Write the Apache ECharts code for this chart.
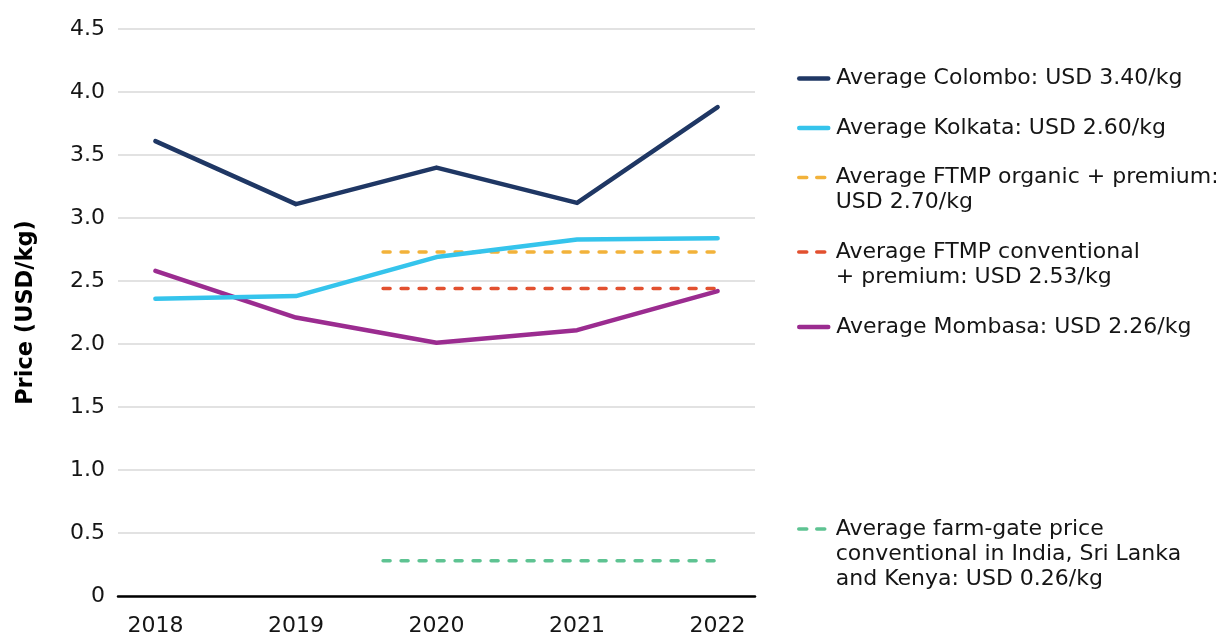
<!DOCTYPE html>
<html>
<head>
<meta charset="utf-8">
<script src="https://cdn.jsdelivr.net/npm/echarts@6/dist/echarts.min.js"></script>
<style>
html,body{margin:0;padding:0;background:#fff;}
#chart{width:1216px;height:635px;}
</style>
</head>
<body>
<div id="chart"></div>
<script>
// ---- data ----
const years = [2018, 2019, 2020, 2021, 2022];
const colombo = [3.61, 3.11, 3.40, 3.12, 3.88];
const kolkata = [2.36, 2.38, 2.69, 2.83, 2.84];
const mombasa = [2.58, 2.21, 2.01, 2.11, 2.42];
const refSpan = [2019.62, 2022];        // x-range of the average reference lines
const ftmpOrganic = [2.73, 2.73];
const ftmpConventional = [2.44, 2.44];
const farmGate = [0.28, 0.28];
const yTicks = [0, 0.5, 1.0, 1.5, 2.0, 2.5, 3.0, 3.5, 4.0, 4.5];

const names = {
  colombo: 'Average Colombo: USD 3.40/kg',
  kolkata: 'Average Kolkata: USD 2.60/kg',
  organic: 'Average FTMP organic + premium:\nUSD 2.70/kg',
  conventional: 'Average FTMP conventional\n+ premium: USD 2.53/kg',
  mombasa: 'Average Mombasa: USD 2.26/kg',
  farm: 'Average farm-gate price\nconventional in India, Sri Lanka\nand Kenya: USD 0.26/kg'
};
const colors = {
  colombo: '#1f3764', kolkata: '#35c4ec', organic: '#f2b23a',
  conventional: '#e2502f', mombasa: '#9b2c90', farm: '#5ec392'
};

const FONT = 'DejaVu Sans';
const LH = 25;

function pair(xs, ys) { return xs.map((x, i) => [x, ys[i]]); }

function solid(key, vals) {
  return {
    name: names[key], type: 'line', data: pair(years, vals),
    symbol: 'none', color: colors[key],
    lineStyle: { width: 4.5, color: colors[key], cap: 'round', join: 'round' },
    emphasis: { disabled: true }, z: 3
  };
}
function dashed(key, vals) {
  return {
    name: names[key], type: 'line', data: pair(refSpan, vals),
    symbol: 'none', color: colors[key],
    lineStyle: { width: 3.5, color: colors[key], type: [7, 11], cap: 'round' },
    emphasis: { disabled: true }, z: 2
  };
}

// legend items: one legend component per entry, icon aligned with first text line
const legendItems = [
  ['colombo', 78.5, 1, false],
  ['kolkata', 128, 1, false],
  ['organic', 177.5, 2, true],
  ['conventional', 252, 2, true],
  ['mombasa', 327, 1, false],
  ['farm', 529, 3, true]
];
const legends = legendItems.map(([key, cy, nLines, isDash]) => {
  const pad = nLines - 1; // blank lines added above so the icon sits on the first line
  const totalLines = nLines + pad;
  return {
    data: [names[key]],
    left: 797,
    top: cy - totalLines * LH / 2,
    itemWidth: 29,
    itemHeight: 14,
    itemGap: 0,
    selectedMode: false,
    padding: 0,
    formatter: (n) => '\n'.repeat(pad) + n,
    textStyle: { fontFamily: FONT, fontSize: 22, color: '#151515', lineHeight: LH, padding: [0, 0, 0, 3] },
    lineStyle: isDash ? { width: 3.5, cap: 'round', type: [8, 10] } : { width: 4.5, cap: 'round' },
    itemStyle: { opacity: 0 }
  };
});

const chart = echarts.init(document.getElementById('chart'), null, { renderer: 'canvas' });
chart.setOption({
  animation: false,
  backgroundColor: '#ffffff',
  legend: legends,
  grid: { left: 118, right: 461, top: 29, bottom: 39, containLabel: false, outerBoundsMode: 'none' },
  xAxis: {
    type: 'value',
    min: 2017.734, max: 2022.266,
    splitLine: { show: false },
    axisTick: { show: false },
    axisLine: { show: true, lineStyle: { color: '#000', width: 2.5 } },
    axisLabel: {
      customValues: years,
      formatter: (v) => String(v),
      fontFamily: FONT, fontSize: 22, color: '#151515', margin: 19
    }
  },
  yAxis: {
    type: 'value', min: 0, max: 4.5, interval: 0.5,
    name: 'Price (USD/kg)', nameLocation: 'middle', nameGap: 80,
    nameTextStyle: { fontFamily: FONT, fontSize: 22.5, fontWeight: 'bold', color: '#000' },
    axisLine: { show: false }, axisTick: { show: false },
    splitLine: { lineStyle: { color: '#d9d9d9', width: 1.5 } },
    axisLabel: {
      customValues: yTicks,
      formatter: (v) => v === 0 ? '0' : v.toFixed(1),
      fontFamily: FONT, fontSize: 22, color: '#151515', margin: 13
    }
  },
  series: [
    dashed('farm', farmGate),
    dashed('conventional', ftmpConventional),
    dashed('organic', ftmpOrganic),
    solid('mombasa', mombasa),
    solid('kolkata', kolkata),
    solid('colombo', colombo)
  ]
});
</script>
</body>
</html>
